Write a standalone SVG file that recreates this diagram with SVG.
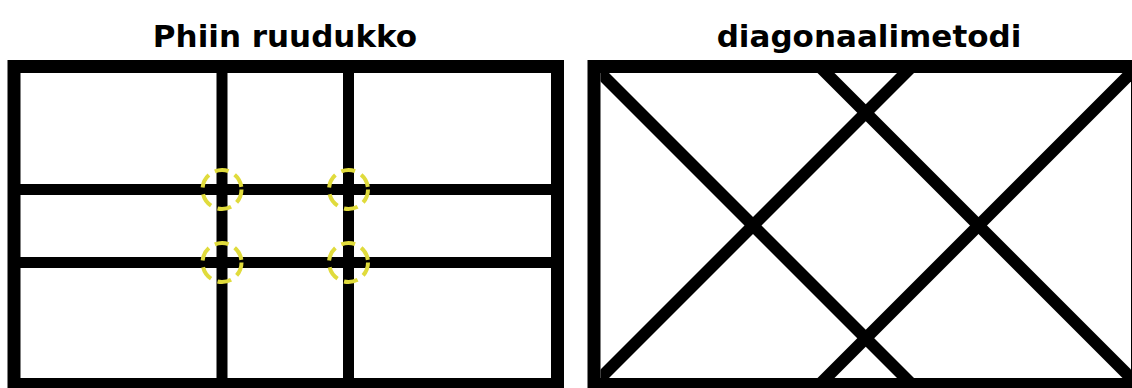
<svg xmlns="http://www.w3.org/2000/svg" width="1132" height="388" viewBox="0 0 1132 388">
  <style>
    .title { font-family: "DejaVu Sans", "Liberation Sans", sans-serif; font-weight: bold; font-size: 31px; fill: #000; text-anchor: middle; }
    .frame { fill: #fff; stroke: #000; stroke-width: 13; }
    .line { stroke: #000; stroke-width: 11; fill: none; }
    .diag { stroke: #000; stroke-width: 12; fill: none; }
    .mark { fill: none; stroke: #e0db3c; stroke-width: 4; stroke-dasharray: 14 7; }
  </style>
  <defs>
    <clipPath id="rightClip">
      <rect x="600.5" y="73" width="530.5" height="305"/>
    </clipPath>
  </defs>
  <rect width="1132" height="388" fill="#fff"/>

  <g id="phi-grid">
    <text class="title" x="285" y="47">Phiin ruudukko</text>
    <rect class="frame" x="14" y="66.5" width="543.5" height="318"/>
    <g id="phi-lines">
      <line class="line" x1="222" y1="70" x2="222" y2="381"/>
      <line class="line" x1="348.5" y1="70" x2="348.5" y2="381"/>
      <line class="line" x1="17" y1="189.5" x2="554" y2="189.5"/>
      <line class="line" x1="17" y1="262.5" x2="554" y2="262.5"/>
    </g>
    <g id="phi-marks">
      <circle class="mark" cx="222" cy="189.5" r="19.5"/>
      <circle class="mark" cx="348.5" cy="189.5" r="19.5"/>
      <circle class="mark" cx="222" cy="262.5" r="19.5"/>
      <circle class="mark" cx="348.5" cy="262.5" r="19.5"/>
    </g>
  </g>

  <g id="diagonal-method">
    <text class="title" x="869" y="47">diagonaalimetodi</text>
    <rect class="frame" x="594" y="66.5" width="543.5" height="318"/>
    <g id="diagonals" clip-path="url(#rightClip)">
      <line class="diag" x1="590.5" y1="63" x2="915.5" y2="388"/>
      <line class="diag" x1="590.5" y1="388" x2="915.5" y2="63"/>
      <line class="diag" x1="1141" y1="63" x2="816" y2="388"/>
      <line class="diag" x1="1141" y1="388" x2="816" y2="63"/>
    </g>
  </g>
</svg>
